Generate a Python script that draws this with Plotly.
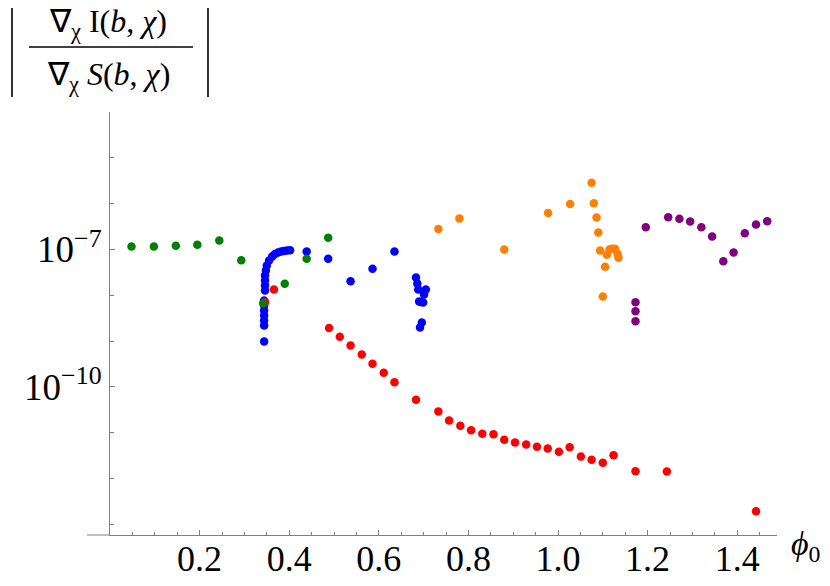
import plotly.graph_objects as go

# ---------------- data ----------------
blue_x = [0.344, 0.344, 0.344, 0.344, 0.344, 0.344, 0.344, 0.346, 0.346, 0.346, 0.346, 0.348,
          0.350, 0.355, 0.362, 0.368, 0.375, 0.382, 0.388, 0.395, 0.402,
          0.439, 0.487, 0.537, 0.586, 0.635,
          0.683, 0.686, 0.688, 0.705, 0.701, 0.690, 0.694, 0.699, 0.696, 0.692]
blue_y = [9.75e-10, 2.18e-9, 2.81e-9, 3.61e-9, 4.63e-9, 5.96e-9, 7.66e-9, 1.27e-8, 1.63e-8, 2.09e-8, 2.69e-8, 3.47e-8,
          4.45e-8, 5.73e-8, 7.0e-8, 7.94e-8, 8.55e-8, 9.0e-8, 9.23e-8, 9.46e-8, 9.55e-8,
          9.0e-8, 6.24e-8, 2.02e-8, 3.77e-8, 9.0e-8,
          2.43e-8, 1.80e-8, 1.33e-8, 1.33e-8, 1.04e-8, 7.28e-9, 7.08e-9, 6.93e-9, 2.54e-9, 1.97e-9]

orange_x = [0.733, 0.780, 0.880, 0.978, 1.027, 1.075, 1.080, 1.086, 1.090, 1.094,
            1.109, 1.115, 1.120, 1.127, 1.133, 1.135, 1.105, 1.100]
orange_y = [2.79e-7, 4.73e-7, 9.95e-8, 6.24e-7, 9.79e-7, 2.84e-6, 1.02e-6, 4.98e-7, 2.34e-7, 9.46e-8,
            7.62e-8, 1.0e-7, 1.03e-7, 1.03e-7, 8.02e-8, 6.56e-8, 4.17e-8, 9.38e-9]

purple_x = [1.196, 1.246, 1.271, 1.295, 1.320, 1.344, 1.369, 1.392, 1.417, 1.442, 1.467, 1.173, 1.173, 1.173]
purple_y = [3.05e-7, 5.05e-7, 4.66e-7, 4.06e-7, 3.05e-7, 1.91e-7, 5.52e-8, 8.55e-8, 2.26e-7, 3.5e-7, 4.13e-7,
            7.03e-9, 4.48e-9, 2.70e-9]

red_x = [0.346, 0.366, 0.489, 0.513, 0.537, 0.562, 0.586, 0.611, 0.635, 0.683, 0.733, 0.757, 0.782, 0.806,
         0.831, 0.856, 0.880, 0.904, 0.929, 0.953, 0.977, 1.002, 1.026, 1.051, 1.075, 1.100, 1.124, 1.173,
         1.243, 1.442]
red_y = [7.03e-9, 1.33e-8, 1.92e-9, 1.24e-9, 7.98e-10, 5.07e-10, 3.18e-10, 2.02e-10, 1.26e-10, 5.2e-11,
         2.89e-11, 1.84e-11, 1.41e-11, 1.13e-11, 9.42e-12, 9.23e-12, 6.97e-12, 6.08e-12, 5.5e-12, 4.9e-12,
         4.5e-12, 3.81e-12, 4.8e-12, 3.01e-12, 2.55e-12, 2.19e-12, 3.21e-12, 1.44e-12, 1.41e-12, 1.92e-13]

green_x = [0.048, 0.098, 0.147, 0.195, 0.244, 0.293, 0.342, 0.390, 0.439, 0.487]
green_y = [1.16e-7, 1.16e-7, 1.20e-7, 1.26e-7, 1.56e-7, 5.81e-8, 6.68e-9, 1.77e-8, 6.24e-8, 1.79e-7]

x_tick_vals = [0.2, 0.4, 0.6, 0.8, 1.0, 1.2, 1.4]
x_tick_text = ["0.2", "0.4", "0.6", "0.8", "1.0", "1.2", "1.4"]
y_tick_vals = [1e-7, 1e-10]
y_tick_text = ["10<sup>\u22127</sup>", "10<sup>\u221210</sup>"]

# ---------------- figure ----------------
O = 8                      # page offset of the plot div (body margin)
W, H = 830 - O, 586 - O
L, R, T, B = 110 - O, 53, 112 - O, 51
PW, PH = W - L - R, H - T - B

def px(xp):                # page pixel -> paper x
    return (xp - O - L) / PW

def py(yp):                # page pixel -> paper y
    return (H - B - (yp - O)) / PH

FONT = "Liberation Serif"
AX = "#808080"

fig = go.Figure()
series = [
    (blue_x, blue_y, "rgb(0,0,255)"),
    (orange_x, orange_y, "rgb(255,128,0)"),
    (purple_x, purple_y, "rgb(128,0,128)"),
    (red_x, red_y, "rgb(255,0,0)"),
    (green_x, green_y, "rgb(0,128,0)"),
]
for xs, ys, c in series:
    fig.add_trace(go.Scatter(x=xs, y=ys, mode="markers",
                             marker=dict(color=c, size=8.5, line=dict(width=0)),
                             showlegend=False, cliponaxis=False))

fig.update_layout(
    width=W, height=H,
    margin=dict(l=L, r=R, t=T, b=B, autoexpand=False),
    paper_bgcolor="white", plot_bgcolor="white",
    font=dict(family=FONT, color="black", size=32),
    xaxis=dict(range=[0, PW / 448.0], showgrid=False, zeroline=False,
               showline=True, linecolor=AX, linewidth=1,
               tickmode="array", tickvals=x_tick_vals, ticktext=x_tick_text,
               ticks="inside", ticklen=5, tickcolor=AX, tickwidth=1,
               minor=dict(tick0=0, dtick=0.05, ticks="inside", ticklen=3, tickcolor=AX, tickwidth=1,
                          showgrid=False),
               tickfont=dict(family=FONT, size=36, color="black"),
               automargin=False, ticklabelstandoff=-8),
    yaxis=dict(type="log", range=[-13.236, -4.0], showgrid=False, zeroline=False,
               showline=True, linecolor=AX, linewidth=1,
               tickmode="array", tickvals=y_tick_vals, ticktext=y_tick_text,
               ticks="inside", ticklen=5, tickcolor=AX, tickwidth=1,
               minor=dict(tick0=0, dtick=1, ticks="inside", ticklen=4, tickcolor=AX, tickwidth=1,
                          showgrid=False),
               tickfont=dict(family=FONT, size=37, color="black"),
               automargin=False),
)

# extension of the x axis line to the left of the origin
fig.add_shape(type="line", xref="paper", yref="paper", x0=px(87), x1=0, y0=0, y1=0,
              line=dict(color=AX, width=1))

# y-axis title: | grad I / grad S |
fig.add_shape(type="line", xref="paper", yref="paper", x0=px(29), x1=px(193), y0=py(47), y1=py(47),
              line=dict(color="black", width=1.6))
for xb in (12, 208):
    fig.add_shape(type="line", xref="paper", yref="paper", x0=px(xb), x1=px(xb), y0=py(4), y1=py(97),
                  line=dict(color="black", width=1.6))
fig.add_annotation(xref="paper", yref="paper", x=px(108), y=py(24), showarrow=False,
                   text="\u2207<sub>\u03c7</sub> I(<i>b</i>, <i>\u03c7</i>)",
                   font=dict(family=FONT, size=32, color="black"), xanchor="center", yanchor="middle")
fig.add_annotation(xref="paper", yref="paper", x=px(108), y=py(76), showarrow=False,
                   text="\u2207<sub>\u03c7</sub> <i>S</i>(<i>b</i>, <i>\u03c7</i>)",
                   font=dict(family=FONT, size=32, color="black"), xanchor="center", yanchor="middle")
# x-axis label
fig.add_annotation(xref="paper", yref="paper", x=px(789), y=py(546), showarrow=False,
                   text="<i>\u03d5</i><sub>0</sub>",
                   font=dict(family=FONT, size=34, color="black"), xanchor="left", yanchor="middle")

fig.write_html("out.html")
